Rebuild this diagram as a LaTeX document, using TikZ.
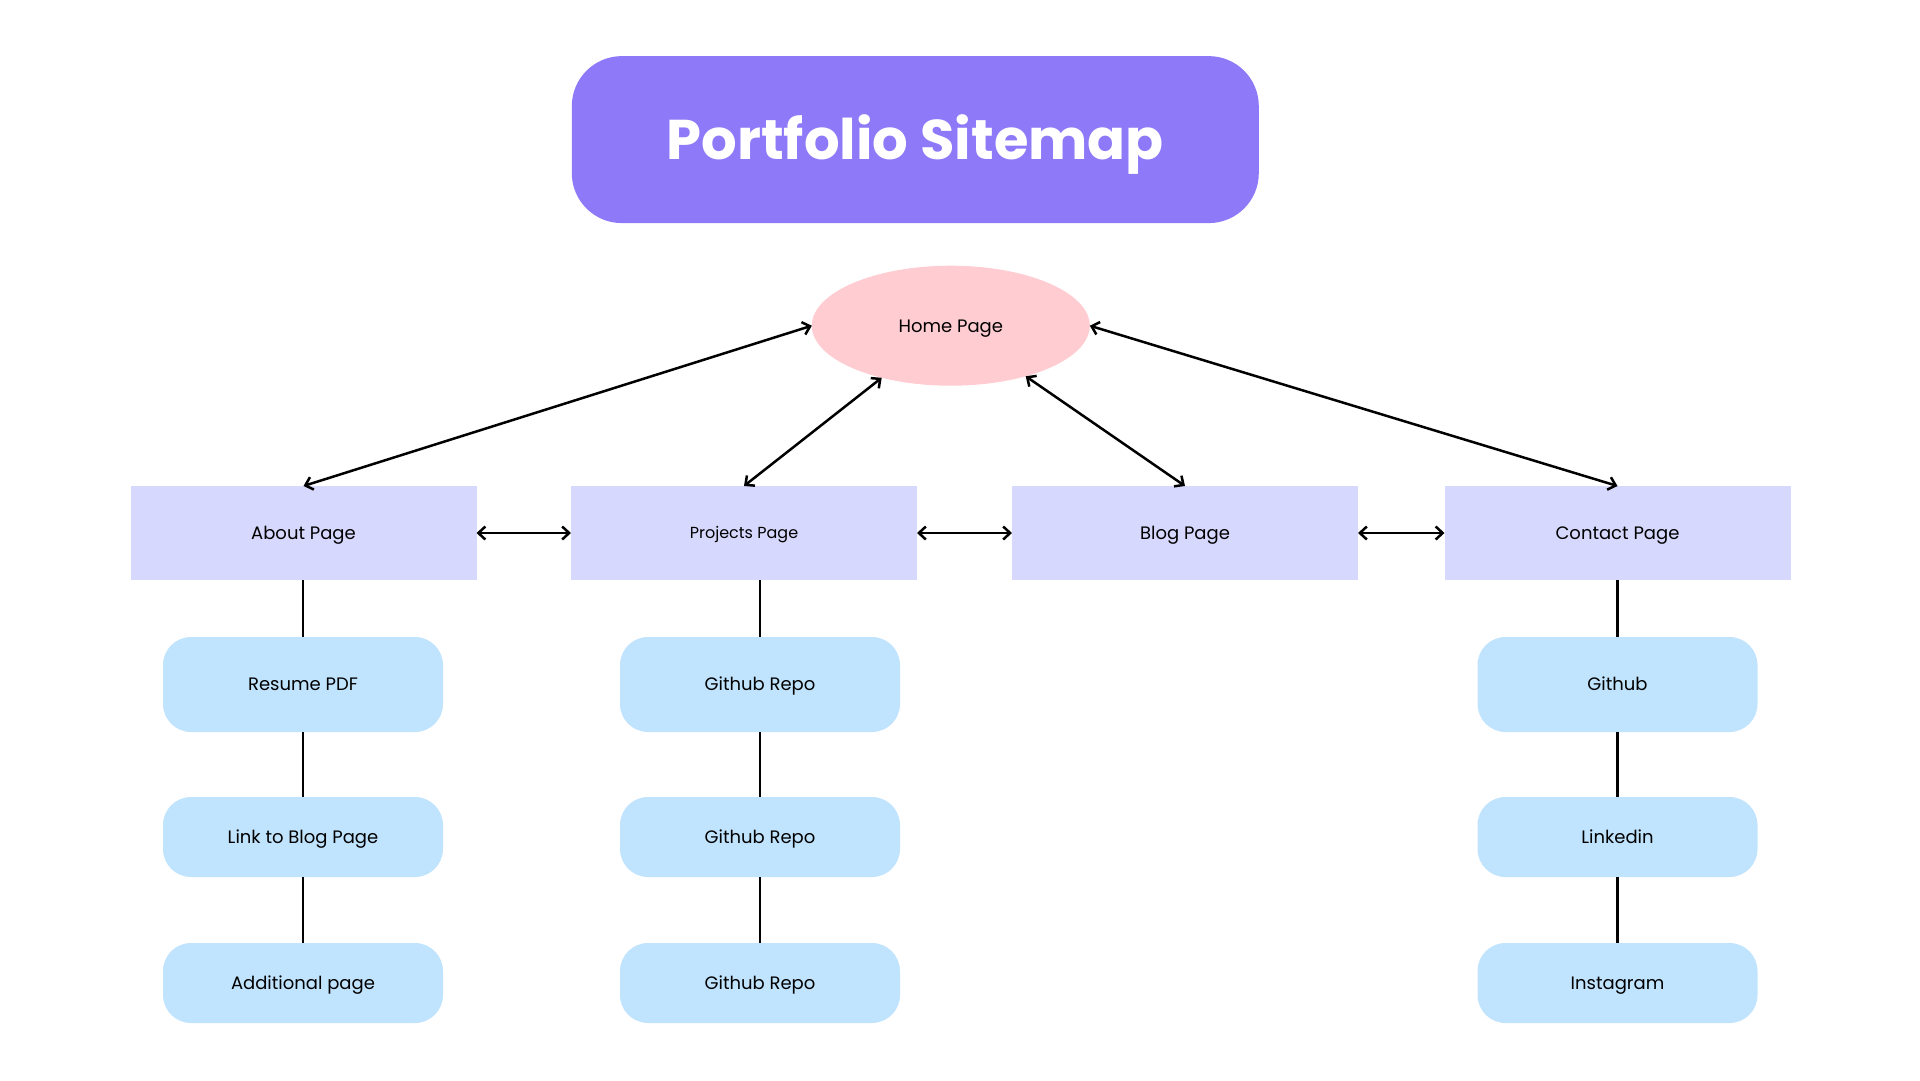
\documentclass[tikz,border=0pt]{standalone}
\usepackage{fontspec}
\setmainfont{Poppins}
\usetikzlibrary{arrows.meta,shapes.geometric}
\definecolor{titlepurple}{RGB}{142,122,248}
\definecolor{homepink}{RGB}{255,204,210}
\definecolor{pagelilac}{RGB}{215,216,253}
\definecolor{subblue}{RGB}{192,227,254}

\begin{document}
\begin{tikzpicture}[x=1pt,y=-1pt,
    label/.style={inner sep=0pt,outer sep=0pt,text height=13pt,text depth=0.2pt,font=\fontsize{18}{22}\selectfont},
    page/.style={label,fill=pagelilac,minimum width=346pt,minimum height=94pt},
    sub/.style={label,fill=subblue,rounded corners=28pt,minimum width=280pt,minimum height=80pt},
    link/.style={line width=2.5pt,{Straight Barb[length=7pt,width=13pt]}-{Straight Barb[length=7pt,width=13pt]}},
    tie/.style={line width=2.5pt}]
    \useasboundingbox (0,0) rectangle (1920,1080);
    \node[fill=titlepurple,rounded corners=50pt,minimum width=687pt,minimum height=167pt,inner sep=0pt,
      text height=40pt,text depth=1.2pt,text=white,font=\fontsize{56}{68}\selectfont\bfseries] (title) at (915.3,139.6) {Portfolio Sitemap};
    \node[label,ellipse,fill=homepink,minimum width=278pt,minimum height=120pt,text height=14pt] (home) at (950.8,325.7) {Home Page};
    \node[page] (about) at (303.5,533) {About Page};
    \node[page,font=\fontsize{16}{20}\selectfont,text height=11.6pt] (projects) at (744,533) {Projects Page};
    \node[page] (blog) at (1185,533) {Blog Page};
    \node[page] (contact) at (1617.5,533) {Contact Page};
    \node[sub,minimum height=95pt] (resume) at (303,684.5) {Resume PDF};
    \node[sub] (bloglink) at (303,837) {Link to Blog Page};
    \node[sub] (extra) at (303,983) {Additional page};
    \node[sub,minimum height=95pt] (repoA) at (760,684.5) {Github Repo};
    \node[sub] (repoB) at (760,837) {Github Repo};
    \node[sub] (repoC) at (760,983) {Github Repo};
    \node[sub,minimum height=95pt] (github) at (1617.5,684.5) {Github};
    \node[sub] (linkedin) at (1617.5,837) {Linkedin};
    \node[sub] (insta) at (1617.5,983) {Instagram};
    \draw[link] (about.north) -- (home.west);
    \draw[link] (projects.north) -- (home.-143);
    \draw[link] (blog.north) -- (home.-34);
    \draw[link] (contact.north) -- (home.east);
    \draw[link] (about) -- (projects);
    \draw[link] (projects) -- (blog);
    \draw[link] (blog) -- (contact);
    \draw[tie] (resume.north |- about.south) -- (resume) -- (bloglink) -- (extra);
    \draw[tie] (repoA.north |- projects.south) -- (repoA) -- (repoB) -- (repoC);
    \draw[tie] (contact) -- (github) -- (linkedin) -- (insta);
\end{tikzpicture}
\end{document}
